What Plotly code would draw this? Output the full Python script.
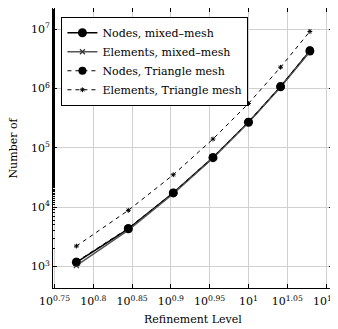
import plotly.graph_objects as go

refinement = [6, 7, 8, 9, 10, 11, 12]
nodes_mixed = [1170, 4300, 17300, 68000, 268000, 1060000, 4250000]
elements_mixed = [1030, 4100, 16800, 67000, 265000, 1050000, 4150000]
nodes_tri = [1200, 4400, 17500, 69000, 272000, 1080000, 4400000]
elements_tri = [2200, 8800, 35000, 140000, 555000, 2270000, 9100000]

x_exponents = [0.75, 0.8, 0.85, 0.9, 0.95, 1, 1.05, 1.1]
x_ticktext = ["10<sup>0.75</sup>", "10<sup>0.8</sup>", "10<sup>0.85</sup>", "10<sup>0.9</sup>",
              "10<sup>0.95</sup>", "10<sup>1</sup>", "10<sup>1.05</sup>", "10<sup>1.1</sup>"]
y_exponents = [3, 4, 5, 6, 7]
y_ticktext = ["10<sup>3</sup>", "10<sup>4</sup>", "10<sup>5</sup>", "10<sup>6</sup>", "10<sup>7</sup>"]

FONT = "DejaVu Serif"

fig = go.Figure()
fig.add_trace(go.Scatter(x=refinement, y=nodes_mixed, name="Nodes, mixed\u2013mesh",
                         mode="lines+markers",
                         line=dict(color="black", width=1.5),
                         marker=dict(symbol="circle", size=9, color="black")))
fig.add_trace(go.Scatter(x=refinement, y=elements_mixed, name="Elements, mixed\u2013mesh",
                         mode="lines+markers",
                         line=dict(color="#555555", width=1.5),
                         marker=dict(symbol="x-thin-open", size=5, color="#333333",
                                     line=dict(width=1.2, color="#333333"))))
fig.add_trace(go.Scatter(x=refinement, y=nodes_tri, name="Nodes, Triangle mesh",
                         mode="lines+markers",
                         line=dict(color="black", width=1, dash="4px,4px"),
                         marker=dict(symbol="circle", size=8, color="black")))
fig.add_trace(go.Scatter(x=refinement, y=elements_tri, name="Elements, Triangle mesh",
                         mode="lines+markers",
                         line=dict(color="black", width=1, dash="4px,4px"),
                         marker=dict(symbol="asterisk-open", size=4, color="black",
                                     line=dict(width=1, color="black"))))

fig.update_layout(
    width=330, height=321,
    margin=dict(l=45, r=5, t=0, b=41, autoexpand=False),
    paper_bgcolor="white", plot_bgcolor="white",
    font=dict(family=FONT, size=11, color="black"),
    showlegend=True,
    legend=dict(x=0.029, y=0.968, xanchor="left", yanchor="top",
                bgcolor="white", bordercolor="black", borderwidth=1.3,
                font=dict(family=FONT, size=11), itemwidth=30,
                tracegroupgap=0),
    annotations=[
        dict(text="Refinement Level", x=0.5, y=0, xref="paper", yref="paper",
             xanchor="center", yanchor="top", yshift=-23, showarrow=False,
             font=dict(family=FONT, size=11)),
        dict(text="Number of", x=0, y=0.5, xref="paper", yref="paper",
             xanchor="right", yanchor="middle", xshift=-32, textangle=-90,
             showarrow=False, font=dict(family=FONT, size=11)),
    ],
)
fig.update_xaxes(
    type="log", range=[0.748, 1.109], automargin=False,
    tickmode="array", tickvals=[10 ** e for e in x_exponents], ticktext=x_ticktext,
    ticklabeloverflow="allow", ticklabelstandoff=3,
    showgrid=True, gridcolor="#d0d0d0", gridwidth=1,
    showline=True, linecolor="black", linewidth=1, mirror="ticks",
    ticks="inside", ticklen=4, tickcolor="black",
    zeroline=False,
    tickfont=dict(family=FONT, size=11),
)
fig.update_yaxes(
    type="log", range=[2.636, 7.354], automargin=False,
    tickmode="array", tickvals=[10 ** e for e in y_exponents], ticktext=y_ticktext,
    ticklabeloverflow="allow",
    showgrid=True, gridcolor="#d0d0d0", gridwidth=1,
    showline=True, linecolor="black", linewidth=1, mirror="allticks",
    ticks="inside", ticklen=4, tickcolor="black",
    minor=dict(ticks="inside", ticklen=2, tickcolor="black", showgrid=False),
    zeroline=False,
    tickfont=dict(family=FONT, size=11),
)

fig.write_html("out.html")
